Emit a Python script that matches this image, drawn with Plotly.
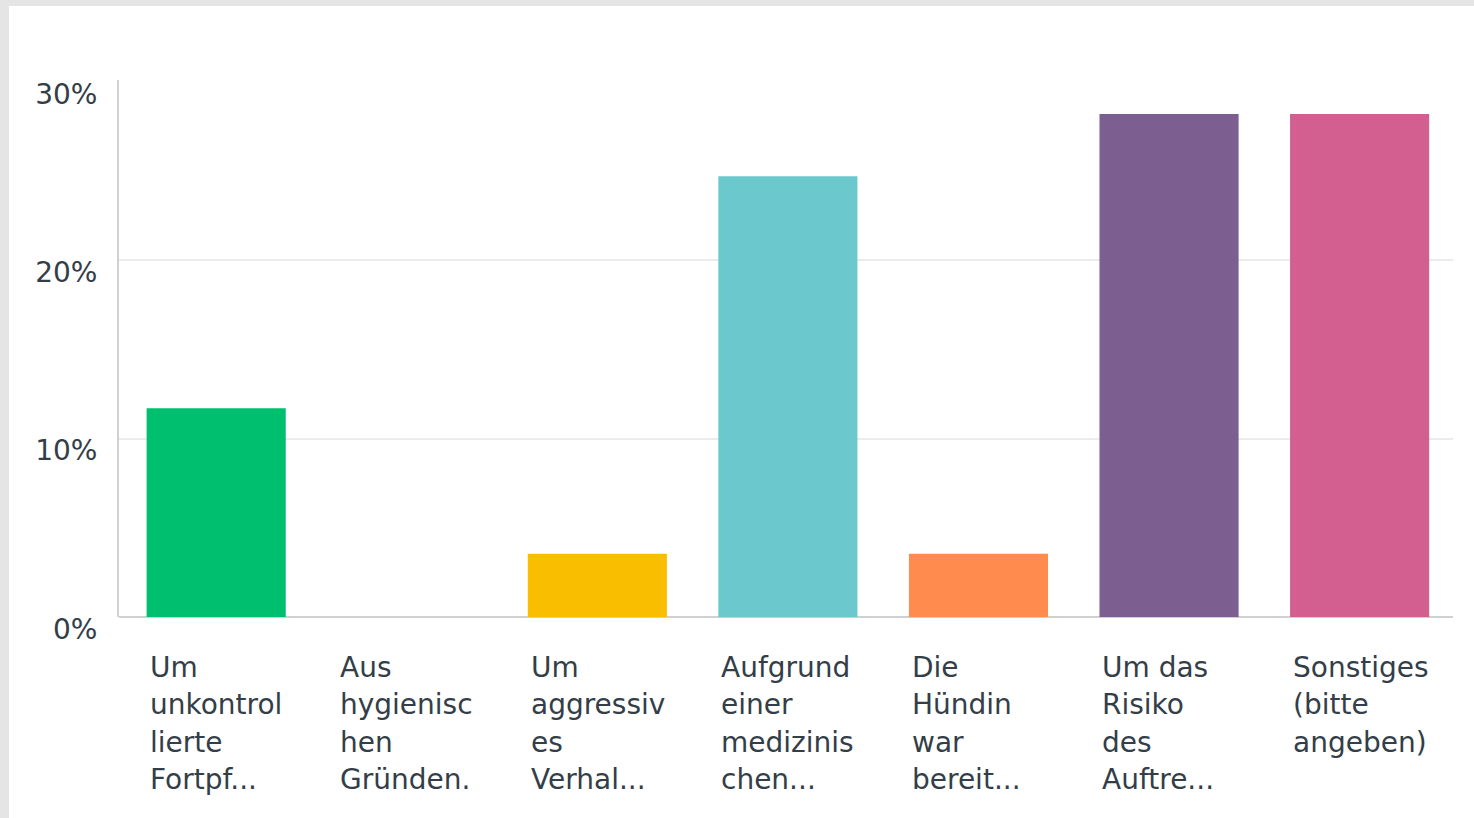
import plotly.graph_objects as go

# ── Daten ────────────────────────────────────────────
categories = [
    ["Um", "unkontrol", "lierte", "Fortpf..."],
    ["Aus", "hygienisc", "hen", "Gründen."],
    ["Um", "aggressiv", "es", "Verhal..."],
    ["Aufgrund", "einer", "medizinis", "chen..."],
    ["Die", "Hündin", "war", "bereit..."],
    ["Um das", "Risiko", "des", "Auftre..."],
    ["Sonstiges", "(bitte", "angeben)"],
]
values = [11.7, 0.0, 3.55, 24.7, 3.55, 28.2, 28.2]
bar_colors = ["#00BF6F", "#00BF6F", "#F9BE00", "#6BC8CD", "#FF8B4F", "#7D5E90", "#D25F90"]
y_ticks = [0, 10, 20, 30]
y_ticktext = ["0%", "10%", "20%", "30%"]

C_TEXT = "#333E48"
C_AXIS = "#D0D0D0"
C_GRID = "#EBEBEB"
C_FRAME = "#E5E5E5"
FONT = "DejaVu Sans"

W, H = 1474, 818
M = dict(l=119, r=21, t=80, b=201)
PW = W - M["l"] - M["r"]
PH = H - M["t"] - M["b"]
BARGAP = 0.27
BAR_HALF = (1 - BARGAP) * PW / len(values) / 2

x_idx = list(range(len(values)))

fig = go.Figure(go.Bar(
    x=x_idx,
    y=values,
    marker=dict(color=bar_colors, line=dict(width=0)),
    hovertemplate="%{y:.1f}%<extra></extra>",
))

# Beschriftungen links bündig unter den Balken, eine Zeile pro Annotation
annotations = []
for i, lines in enumerate(categories):
    for j, line in enumerate(lines):
        annotations.append(dict(
            x=i, xref="x", y=0, yref="paper",
            xanchor="left", yanchor="middle",
            xshift=-BAR_HALF + 1, yshift=-50 - j * 37.5,
            text=line, showarrow=False, align="left",
            font=dict(family=FONT, size=28, color=C_TEXT),
        ))

# grauer Rahmen oben und links (Screenshot-Rand)
shapes = [
    dict(type="rect", xref="paper", yref="paper",
         x0=-M["l"] / PW, x1=(PW + M["r"]) / PW,
         y0=(PH + M["t"] - 6) / PH, y1=(PH + M["t"]) / PH,
         fillcolor=C_FRAME, line=dict(width=0), layer="below"),
    dict(type="rect", xref="paper", yref="paper",
         x0=-M["l"] / PW, x1=(9 - M["l"]) / PW,
         y0=-M["b"] / PH, y1=(PH + M["t"]) / PH,
         fillcolor=C_FRAME, line=dict(width=0), layer="below"),
]

fig.update_layout(
    width=W, height=H,
    margin=M,
    paper_bgcolor="white",
    plot_bgcolor="white",
    font=dict(family=FONT, color=C_TEXT, size=28),
    showlegend=False,
    bargap=BARGAP,
    annotations=annotations,
    shapes=shapes,
    xaxis=dict(
        range=[-0.51, len(values) - 0.51],
        showticklabels=False,
        showgrid=False,
        zeroline=False,
        showline=False,
        fixedrange=True,
    ),
    yaxis=dict(
        range=[0, 30.1],
        tickvals=y_ticks,
        ticktext=y_ticktext,
        tickfont=dict(family=FONT, size=28, color=C_TEXT),
        ticklabelstandoff=14,
        ticklabelshift=12,
        showgrid=False,
        zeroline=True,
        zerolinecolor=C_AXIS,
        zerolinewidth=2,
        showline=True,
        linecolor=C_AXIS,
        linewidth=2,
        minor=dict(tickvals=[10, 20], showgrid=True, gridcolor=C_GRID, gridwidth=2, ticks=""),
        fixedrange=True,
    ),
)

# Seitenrand des Browsers entfernen, damit die Grafik bei (0,0) beginnt
fig.write_html(
    "out.html",
    config={"displayModeBar": False},
    post_script="document.body.style.margin='0';",
)
